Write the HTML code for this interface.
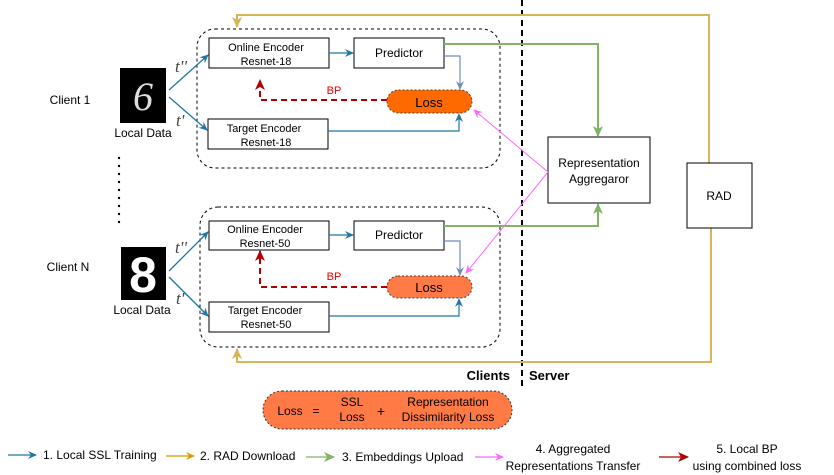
<!DOCTYPE html>
<html><head><meta charset="utf-8"><style>
body{margin:0;background:#fff}
svg{display:block;font-family:"Liberation Sans",Arial,sans-serif}
</style></head><body>
<svg width="834" height="475" viewBox="0 0 834 475" xmlns="http://www.w3.org/2000/svg">
<defs>
<marker id="ab" markerWidth="10" markerHeight="10" refX="8" refY="5" orient="auto" markerUnits="userSpaceOnUse"><path d="M0,1 L9,5 L0,9 L3,5z" fill="#1f77a4"/></marker>
<marker id="al" markerWidth="10" markerHeight="10" refX="8" refY="5" orient="auto" markerUnits="userSpaceOnUse"><path d="M0,1 L9,5 L0,9 L3,5z" fill="#6c8ebf"/></marker>
<marker id="ag" markerWidth="12" markerHeight="12" refX="10" refY="6" orient="auto" markerUnits="userSpaceOnUse"><path d="M0,1 L11,6 L0,11 L3,6z" fill="#82b366"/></marker>
<marker id="ay" markerWidth="12" markerHeight="12" refX="10" refY="6" orient="auto" markerUnits="userSpaceOnUse"><path d="M0,1 L11,6 L0,11 L3,6z" fill="#d6b656"/></marker>
<marker id="ao" markerWidth="10" markerHeight="10" refX="8" refY="5" orient="auto" markerUnits="userSpaceOnUse"><path d="M0,1 L9,5 L0,9 L3,5z" fill="#d79b00"/></marker>
<marker id="ap" markerWidth="10" markerHeight="10" refX="8" refY="5" orient="auto" markerUnits="userSpaceOnUse"><path d="M0,1 L9,5 L0,9 L3,5z" fill="#ff66ff"/></marker>
<marker id="ar" markerWidth="12" markerHeight="12" refX="10" refY="6" orient="auto" markerUnits="userSpaceOnUse"><path d="M0,1 L11,6 L0,11 L3,6z" fill="#b20000"/></marker>
</defs>

<line x1="522" y1="0" x2="522" y2="390" stroke="#000" stroke-width="2" stroke-dasharray="6,4"/>

<polyline points="709,163 709,15 237,15 237,27" fill="none" stroke="#d6b656" stroke-width="2" marker-end="url(#ay)"/>
<polyline points="711,228 711,362 237,362 237,349" fill="none" stroke="#d6b656" stroke-width="2" marker-end="url(#ay)"/>

<rect x="197" y="29" width="303" height="139" rx="18" fill="none" stroke="#000" stroke-dasharray="3,3"/>
<rect x="200" y="207" width="300" height="140" rx="18" fill="none" stroke="#000" stroke-dasharray="3,3"/>

<rect x="120" y="68" width="46" height="55" fill="#000"/>
<text x="143" y="110" font-family="'Liberation Serif',serif" font-style="italic" font-size="40" fill="#ddd" text-anchor="middle">6</text>
<rect x="121" y="247" width="45" height="53" fill="#000"/>
<text x="143" y="292" font-size="50" fill="#fff" text-anchor="middle" font-weight="bold">8</text>

<g font-size="12" fill="#000">
<text x="70" y="104" text-anchor="middle">Client 1</text>
<text x="143" y="137" text-anchor="middle">Local Data</text>
<text x="68" y="271" text-anchor="middle">Client N</text>
<text x="142" y="314" text-anchor="middle">Local Data</text>
</g>
<g fill="#000">
<circle cx="119" cy="158" r="1.2"/><circle cx="119" cy="166" r="1.2"/><circle cx="119" cy="174" r="1.2"/><circle cx="119" cy="182" r="1.2"/><circle cx="119" cy="190" r="1.2"/><circle cx="119" cy="198" r="1.2"/><circle cx="119" cy="206" r="1.2"/><circle cx="119" cy="214" r="1.2"/><circle cx="119" cy="222" r="1.2"/>
</g>

<g stroke="#1f77a4" stroke-width="1.3" fill="none">
<line x1="169" y1="90" x2="208" y2="55" marker-end="url(#ab)"/>
<line x1="169" y1="97" x2="207" y2="130" marker-end="url(#ab)"/>
<line x1="169" y1="271" x2="208" y2="232" marker-end="url(#ab)"/>
<line x1="169" y1="277" x2="208" y2="316" marker-end="url(#ab)"/>
</g>
<g font-family="'Liberation Serif',serif" font-style="italic" font-size="17" fill="#444">
<text x="175" y="72">t''</text><text x="176" y="126">t'</text>
<text x="175" y="253">t''</text><text x="176" y="304">t'</text>
</g>

<g fill="#fff" stroke="#000" stroke-width="1">
<rect x="209" y="38" width="120" height="30"/>
<rect x="354" y="38" width="90" height="30"/>
<rect x="208" y="119" width="120" height="30"/>
<rect x="209" y="221" width="120" height="29"/>
<rect x="354" y="221" width="90" height="29"/>
<rect x="209" y="302" width="120" height="30"/>
<rect x="548" y="137" width="102" height="66"/>
<rect x="687" y="163" width="65" height="65"/>
</g>
<g font-size="11" text-anchor="middle" fill="#000">
<text x="266" y="51">Online Encoder</text><text x="266" y="65">Resnet-18</text>
<text x="264" y="132">Target Encoder</text><text x="266" y="146">Resnet-18</text>
<text x="265" y="233">Online Encoder</text><text x="265" y="247">Resnet-50</text>
<text x="265" y="314">Target Encoder</text><text x="266" y="328">Resnet-50</text>
</g>
<g font-size="12" text-anchor="middle" fill="#000">
<text x="399" y="57">Predictor</text>
<text x="399" y="239">Predictor</text>
<text x="599" y="167">Representation</text>
<text x="599" y="183">Aggregaror</text>
<text x="719" y="200">RAD</text>
</g>

<rect x="387" y="90" width="85" height="23" rx="11.5" fill="#ff6a00" stroke="#444" stroke-dasharray="2,2"/>
<text x="429" y="107" font-size="13" text-anchor="middle">Loss</text>
<rect x="387" y="276" width="85" height="22" rx="11" fill="#ff7a45" stroke="#444" stroke-dasharray="2,2"/>
<text x="429" y="292" font-size="13" text-anchor="middle">Loss</text>

<g stroke="#1f77a4" stroke-width="1.2" fill="none">
<line x1="329" y1="53" x2="353" y2="53" marker-end="url(#ab)"/>
<polyline points="328,131 459,131 459,114" marker-end="url(#ab)"/>
<line x1="329" y1="235" x2="353" y2="235" marker-end="url(#ab)"/>
<polyline points="329,316 459,316 459,299" marker-end="url(#ab)"/>
</g>
<g stroke="#6c8ebf" stroke-width="1.2" fill="none">
<polyline points="444,56 460,56 460,89" marker-end="url(#al)"/>
<polyline points="444,241 460,241 460,275" marker-end="url(#al)"/>
</g>

<g stroke="#b20000" stroke-width="2" fill="none" stroke-dasharray="6,4">
<polyline points="387,100 260,100 260,80" marker-end="url(#ar)"/>
<polyline points="387,287 260,287 260,251" marker-end="url(#ar)"/>
</g>
<text x="334" y="94" font-size="11" fill="#e00" text-anchor="middle">BP</text>
<text x="334" y="280" font-size="11" fill="#e00" text-anchor="middle">BP</text>

<g stroke="#82b366" stroke-width="2" fill="none">
<polyline points="444,44 598,44 598,136" marker-end="url(#ag)"/>
<polyline points="444,226 598,226 598,204" marker-end="url(#ag)"/>
</g>
<g stroke="#ff66ff" stroke-width="1" fill="none">
<line x1="548" y1="172" x2="474" y2="110" marker-end="url(#ap)"/>
<line x1="548" y1="172" x2="466" y2="273" marker-end="url(#ap)"/>
</g>

<g font-size="13" font-weight="bold" fill="#000">
<text x="510" y="380" text-anchor="end">Clients</text>
<text x="529" y="380">Server</text>
</g>

<rect x="263" y="391" width="249" height="38" rx="19" fill="#ff7a45" stroke="#333" stroke-dasharray="2,2"/>
<g font-size="12" fill="#000" text-anchor="middle">
<text x="290" y="415">Loss</text>
<text x="316" y="415">=</text>
<text x="352" y="406">SSL</text><text x="352" y="421">Loss</text>
<text x="381" y="416" font-size="14">+</text>
<text x="448" y="406">Representation</text><text x="448" y="421">Dissimilarity Loss</text>
</g>

<g stroke-width="1.3" fill="none">
<line x1="8" y1="455" x2="36" y2="455" stroke="#1f77a4" marker-end="url(#ab)"/>
<line x1="166" y1="456" x2="194" y2="456" stroke="#d79b00" marker-end="url(#ao)"/>
<line x1="306" y1="457" x2="334" y2="457" stroke="#82b366" marker-end="url(#ag)"/>
<line x1="475" y1="457" x2="503" y2="457" stroke="#ff66ff" marker-end="url(#ap)"/>
<line x1="659" y1="457" x2="688" y2="457" stroke="#b20000" marker-end="url(#ar)"/>
</g>
<g font-size="12" fill="#000">
<text x="43" y="459">1. Local SSL Training</text>
<text x="200" y="460">2. RAD Download</text>
<text x="342" y="461">3. Embeddings Upload</text>
<text x="573" y="453" text-anchor="middle">4. Aggregated</text>
<text x="573" y="470" text-anchor="middle">Representations Transfer</text>
<text x="747" y="453" text-anchor="middle">5. Local BP</text>
<text x="747" y="470" text-anchor="middle">using combined loss</text>
</g>
</svg>
</body></html>
